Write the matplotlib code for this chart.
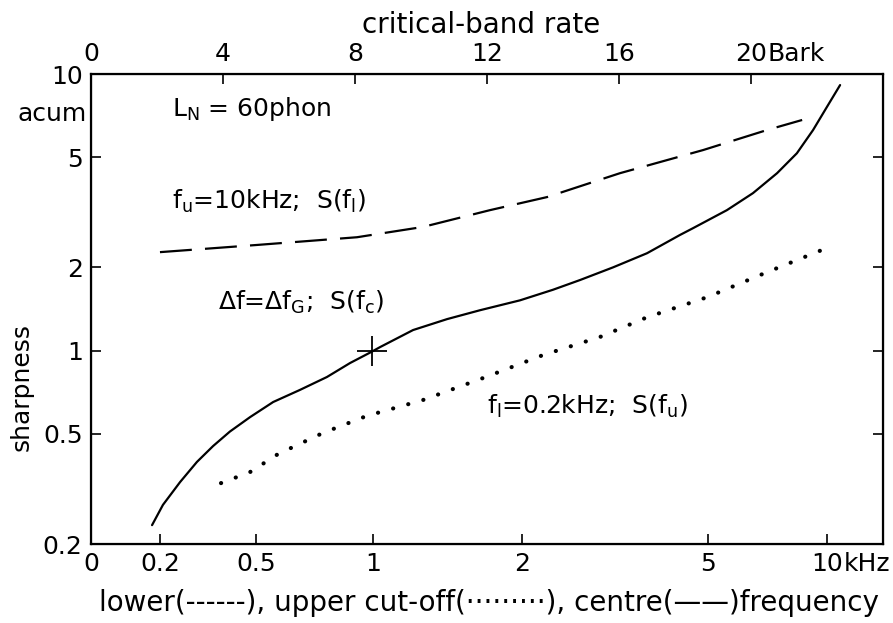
import matplotlib
matplotlib.use("Agg")
import matplotlib.pyplot as plt
from matplotlib.transforms import blended_transform_factory

plt.rcParams["font.family"] = ["DejaVu Sans"]
plt.rcParams["lines.scale_dashes"] = False
plt.rcParams["mathtext.default"] = "regular"

# critical-band rate (Bark) vs sharpness (acum)
centre_z = [1.85, 2.18, 2.70, 3.21, 3.70, 4.21, 4.82, 5.52, 6.33, 7.15, 7.85, 8.5,
            8.76, 9.76, 10.79, 11.79, 13.0, 14.0, 14.82, 15.82, 16.85, 17.85,
            18.24, 19.27, 20.06, 20.79, 21.39, 21.88, 22.30, 22.70]
centre_s = [0.234, 0.277, 0.335, 0.396, 0.452, 0.510, 0.575, 0.652, 0.721, 0.803,
            0.902, 0.99, 1.03, 1.187, 1.30, 1.40, 1.52, 1.66, 1.80, 2.00, 2.25,
            2.62, 2.77, 3.22, 3.71, 4.38, 5.17, 6.27, 7.60, 9.12]

lower_z = [2.09, 5.03, 8.06, 10.06, 12.09, 13.82, 16.03, 18.55, 20.48, 21.55]
lower_s = [2.27, 2.41, 2.57, 2.80, 3.22, 3.59, 4.38, 5.31, 6.27, 6.82]

upper_z = [3.94, 4.82, 5.67, 7.03, 8.36, 10.06, 11.88, 13.70, 15.42, 16.85,
           18.67, 20.48, 22.30]
upper_s = [0.332, 0.364, 0.423, 0.504, 0.581, 0.663, 0.796, 0.964, 1.12, 1.32,
           1.56, 1.92, 2.35]

ref_z, ref_s = 8.5, 1.0

bark_ticks = [0, 4, 8, 12, 16, 20]
freq_labels = ["0", "0.2", "0.5", "1", "2", "5", "10"]
freq_bark = [0, 2.1, 5.0, 8.55, 13.05, 18.7, 22.3]
y_ticks = [0.2, 0.5, 1, 2, 5, 10]
y_labels = ["0.2", "0.5", "1", "2", "5", "10"]

fs = 18
fig = plt.figure(figsize=(8.93, 6.23), dpi=100)
ax = fig.add_axes([91 / 893, 79 / 623, 792 / 893, 470 / 623])

ax.plot(centre_z, centre_s, color="black", lw=1.6, solid_capstyle="round")
ax.plot(lower_z, lower_s, color="black", lw=1.6, dashes=[23, 9.5])
ax.plot(upper_z, upper_s, color="black", lw=3.0, dashes=[0.1, 11.2],
        dash_capstyle="round")
ax.plot([ref_z], [ref_s], marker="+", color="black", ms=22, mew=1.3)

ax.set_yscale("log")
ax.set_xlim(0, 24)
ax.set_ylim(0.2, 10)
ax.set_yticks(y_ticks)
ax.set_yticklabels(y_labels)
ax.yaxis.set_minor_locator(matplotlib.ticker.NullLocator())
ax.set_xticks(freq_bark)
ax.set_xticklabels(freq_labels)
ax.tick_params(direction="in", length=7, width=1.2, labelsize=fs, pad=6,
               right=True)
for sp in ax.spines.values():
    sp.set_linewidth(1.6)

top = ax.twiny()
top.set_xlim(0, 24)
top.set_xticks(bark_ticks)
top.set_xticklabels([str(b) for b in bark_ticks])
top.tick_params(direction="in", length=7, width=1.2, labelsize=fs, pad=6)

# units next to the last tick labels
trans_top = blended_transform_factory(ax.transData, ax.transAxes)
ax.annotate("Bark", xy=(20, 1), xycoords=trans_top, xytext=(12, 6),
            textcoords="offset points", ha="left", va="bottom", fontsize=fs)
ax.annotate("kHz", xy=(freq_bark[-1], 0), xycoords=trans_top, xytext=(12, -6),
            textcoords="offset points", ha="left", va="top", fontsize=fs)
ax.text(-0.005, 0.915, "acum", transform=ax.transAxes, ha="right",
        va="center", fontsize=fs)

ax.text(2.45, 7.5, "$L_N$ = 60phon", fontsize=fs, va="center")
ax.text(2.45, 3.45, "$f_u$=10kHz;  S($f_l$)", fontsize=fs, va="center")
ax.text(3.85, 1.5, "Δf=Δ$f_G$;  S($f_c$)", fontsize=fs, va="center")
ax.text(12.0, 0.63, "$f_l$=0.2kHz;  S($f_u$)", fontsize=fs, va="center")

fig.text(481 / 893, 1 - 25 / 623, "critical-band rate", ha="center",
         va="center", fontsize=20)
fig.text(489 / 893, 1 - 603 / 623,
         "lower(------), upper cut-off(·········), centre(——)frequency",
         ha="center", va="center", fontsize=20)
fig.text(22 / 893, 1 - 387 / 623, "sharpness", rotation=90, ha="center",
         va="center", fontsize=fs)

fig.savefig("out.png", dpi=100, facecolor="white")
